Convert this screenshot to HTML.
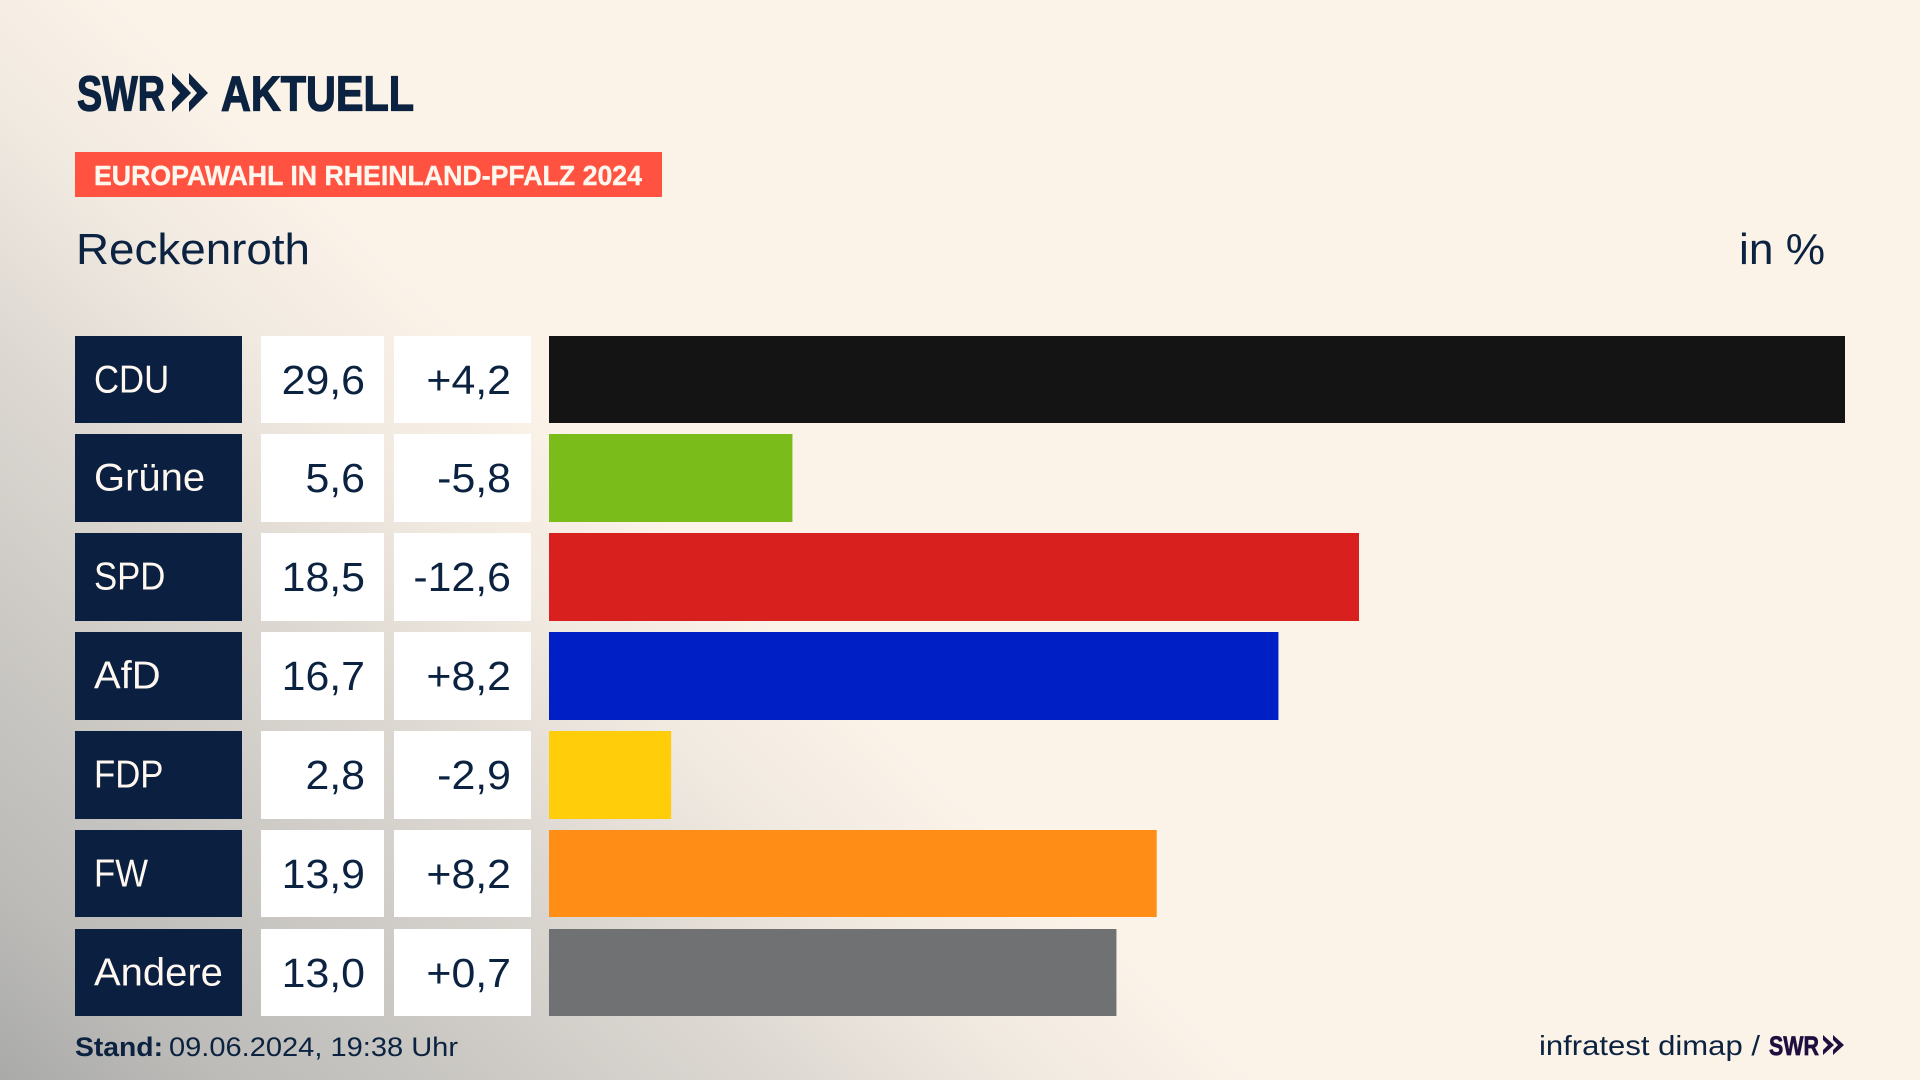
<!DOCTYPE html>
<html lang="de">
<head>
<meta charset="utf-8">
<title>Europawahl in Rheinland-Pfalz 2024 – Reckenroth</title>
<style>
  html, body { margin: 0; padding: 0; width: 1920px; height: 1080px; overflow: hidden; }
  #stage {
    position: relative; width: 1920px; height: 1080px; background-color: #fbf2e8;
    background-image: linear-gradient(223.3deg,
      #fbf2e8 0%, #fbf2e8 59%, #f1eae1 66%, #dcd7d1 75%, #c6c4c0 87%, #bcbbb8 93%, #aaaaa9 100%);
  }
  svg { position: absolute; left: 0; top: 0; }
  text { font-family: "Liberation Sans", sans-serif; }
</style>
</head>
<body>
<div id="stage">
<svg id="chart" width="1920" height="1080" viewBox="0 0 1920 1080">
  <g fill="#0b2240">
    <text x="77" y="110.5" font-size="49" font-weight="700" stroke="#0b2240" stroke-width="1.3" textLength="88" lengthAdjust="spacingAndGlyphs">SWR</text>
    <polygon points="172,73 191,93 172,112 172,102 180,93 172,84"/>
    <polygon points="189,73 208,93 189,112 189,102 197,93 189,84"/>
    <text x="221" y="110.5" font-size="49" font-weight="700" stroke="#0b2240" stroke-width="1.3" textLength="193" lengthAdjust="spacingAndGlyphs">AKTUELL</text>
  </g>
  <rect x="75" y="152" width="587" height="45" fill="#ff5240"/>
  <text x="94" y="185" font-size="28" font-weight="700" fill="#fff6ee" stroke="#fff6ee" stroke-width="0.4" textLength="548" lengthAdjust="spacingAndGlyphs">EUROPAWAHL IN RHEINLAND-PFALZ 2024</text>
  <text x="76" y="264" font-size="44" fill="#0b2240" textLength="234" lengthAdjust="spacingAndGlyphs">Reckenroth</text>
  <text x="1739" y="264" font-size="44" fill="#0b2240" textLength="86" lengthAdjust="spacingAndGlyphs">in %</text>
  <g id="rows"></g>
  <text x="75" y="1056" font-size="27" font-weight="700" fill="#0b2240" textLength="88" lengthAdjust="spacingAndGlyphs">Stand:</text>
  <text x="169" y="1056" font-size="27" fill="#0b2240" textLength="289" lengthAdjust="spacingAndGlyphs">09.06.2024, 19:38 Uhr</text>
  <text x="1539" y="1055" font-size="28" fill="#0b2240" textLength="221" lengthAdjust="spacingAndGlyphs">infratest dimap /</text>
  <g fill="#1f0f3f">
    <text x="1769" y="1055" font-size="27" font-weight="700" stroke="#1f0f3f" stroke-width="0.7" textLength="50" lengthAdjust="spacingAndGlyphs">SWR</text>
    <polygon points="1823,1035 1834,1045 1823,1055 1823,1050 1828,1045 1823,1040"/>
    <polygon points="1833,1035 1844,1045 1833,1055 1833,1050 1838,1045 1833,1040"/>
  </g>
</svg>
</div>
<script>
const parties = ["CDU", "Grüne", "SPD", "AfD", "FDP", "FW", "Andere"];
const shares = [29.6, 5.56, 18.5, 16.66, 2.79, 13.88, 12.96];
const changes = [4.2, -5.8, -12.6, 8.2, -2.9, 8.2, 0.7];
const partyColors = ["#141414", "#7abd1a", "#d8201e", "#0020c6", "#ffcd0a", "#ff8d16", "#707173"];
const axisMax = 29.6;

const NS = "http://www.w3.org/2000/svg";
const rowsGroup = document.getElementById("rows");
const barLeft = 549, barFull = 1296;
const xScale = function (v) { return barLeft + (v / axisMax) * barFull; };
const yTop = function (i) { return Math.floor(336.1 + 98.83 * i); };
const yBottom = function (i) { return Math.floor(423.8 + 98.83 * i); };
const fmtShare = function (v) { return v.toFixed(1).replace(".", ","); };
const fmtChange = function (v) { return (v >= 0 ? "+" : "-") + Math.abs(v).toFixed(1).replace(".", ","); };

function make(tag, parent, attrs, content) {
  const el = document.createElementNS(NS, tag);
  Object.keys(attrs).forEach(function (k) { el.setAttribute(k, attrs[k]); });
  if (content !== undefined) el.textContent = content;
  parent.appendChild(el);
  return el;
}

parties.forEach(function (party, i) {
  const y = yTop(i);
  const h = yBottom(i) - y;
  const row = make("g", rowsGroup, {});
  
  

  const labelBox = make("rect", row, { x: 75, y: y, width: 167, height: h, fill: "#0b2040" });
  
  

  const caps = /^[A-Z]+$/.test(party);
  const label = make("text", row, {
    transform: "translate(94," + (y + 56.7) + ") scale(" + (caps ? 0.89 : 1.025) + ",1)",
    "font-size": 39, fill: "#fff8f0"
  }, party);
  
  

  const shareBox = make("rect", row, { x: 261, y: y, width: 123, height: h, fill: "#ffffff" });
  
  

  const shareText = make("text", row, {
    transform: "translate(365," + (y + 57.8) + ") scale(1.045,1)",
    "font-size": 41, "text-anchor": "end", fill: "#0b2240"
  }, fmtShare(shares[i]));
  
  

  const changeBox = make("rect", row, { x: 394, y: y, width: 137, height: h, fill: "#ffffff" });
  
  

  const changeText = make("text", row, {
    transform: "translate(511," + (y + 57.8) + ") scale(1.045,1)",
    "font-size": 41, "text-anchor": "end", fill: "#0b2240"
  }, fmtChange(changes[i]));
  
  

  const bar = make("rect", row, { x: xScale(0), y: y, width: xScale(shares[i]) - xScale(0), height: h, fill: partyColors[i] });
  
  
});
</script>
</body>
</html>
